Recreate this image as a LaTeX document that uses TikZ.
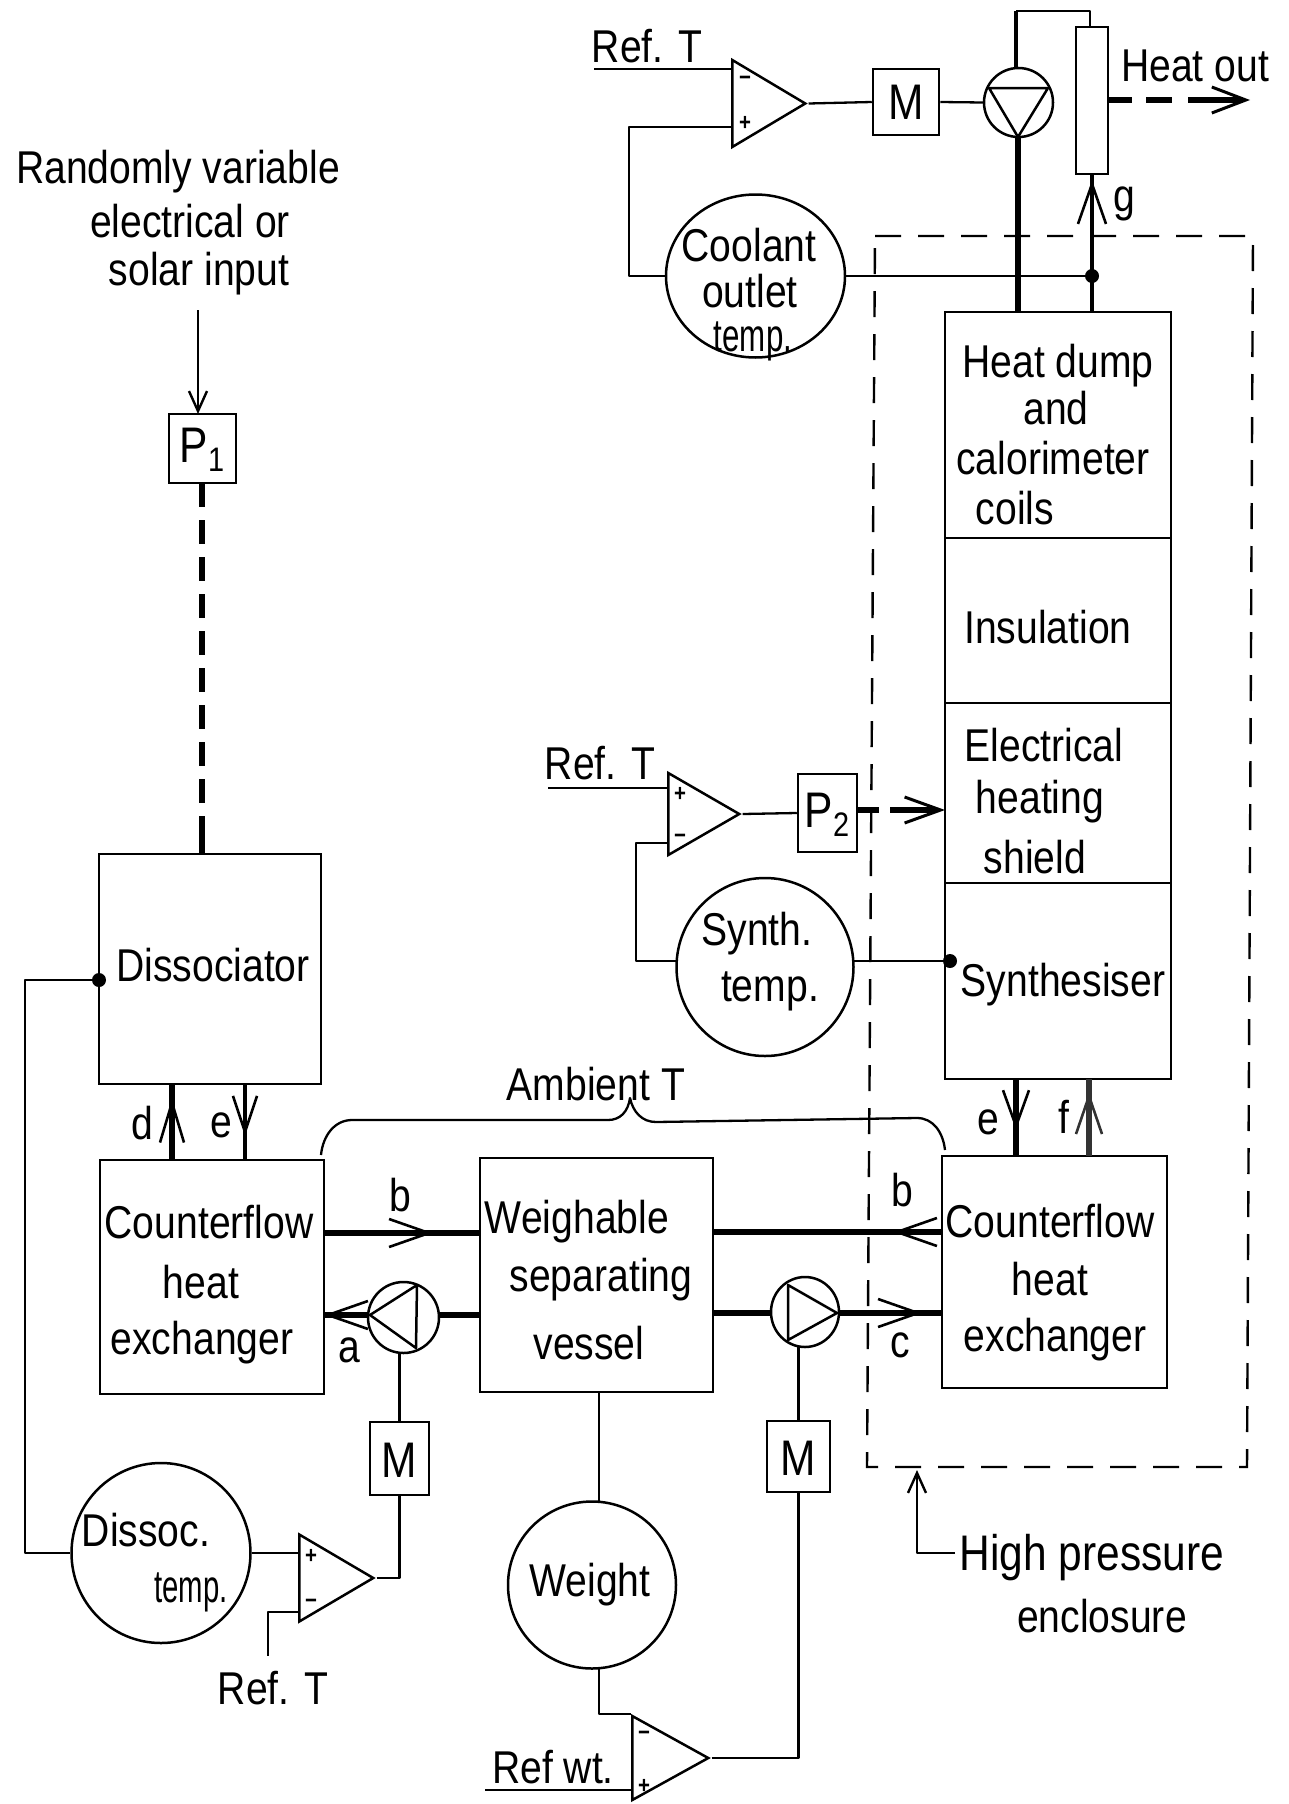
\documentclass[tikz,border=0pt]{standalone}
\usepackage{fontspec}
\usepackage{graphicx}
\setmainfont[FakeStretch=0.85]{Liberation Sans}
\usetikzlibrary{shapes.geometric,arrows.meta,calc}
\newcommand{\subnum}[1]{\raisebox{-9pt}{\fontsize{34pt}{36pt}\selectfont #1}}
\tikzset{
  x=1pt,y=-1pt,
  wire/.style={line width=2.3pt,line join=round},
  pipe/.style={line width=6pt},
  pipeb/.style={line width=4.5pt},
  barbtip/.style={-{Straight Barb[length=40pt,width=28pt,line width=2.6pt]}},
  thinbarb/.style={-{Straight Barb[length=20pt,width=18pt,line width=2.4pt]}},
  powerdash/.style={line width=5.5pt,dash pattern=on 24pt off 13pt},
  enclosure/.style={line width=2.4pt,dash pattern=on 26pt off 17pt},
  block/.style={draw,line width=2.5pt,rectangle,inner sep=0pt},
  sensor/.style={draw,line width=2.5pt,ellipse,inner sep=0pt},
  amp/.style={draw,line width=2.5pt,isosceles triangle,isosceles triangle stretches,inner sep=0pt,anchor=lower side,line join=miter},
  txt/.style={inner sep=0pt,font=\fontsize{46pt}{50pt}\selectfont},
  txtl/.style={inner sep=0pt,font=\fontsize{50pt}{54pt}\selectfont},
  ltr/.style={inner sep=0pt,font=\fontsize{46pt}{50pt}\selectfont},
  sign/.style={inner sep=0pt,font=\fontsize{24pt}{26pt}\selectfont\bfseries},
  junction/.style={circle,fill=black,inner sep=0pt,minimum size=14pt},
}
\begin{document}
\begin{tikzpicture}
\useasboundingbox[fill=white] (0,0) rectangle (1288,1804);

% ---------- blocks
\node[block,minimum width=67pt,minimum height=69pt] (P1) at (202.5,448.5) {};
\node[block,minimum width=222pt,minimum height=230pt] (diss) at (210,969) {};
\node[block,minimum width=224pt,minimum height=234pt] (cfl) at (212,1277) {};
\node[block,minimum width=233pt,minimum height=234pt] (vessel) at (596.5,1275) {};
\node[block,minimum width=225pt,minimum height=232pt] (cfr) at (1054.5,1272) {};
\node[block,minimum width=226pt,minimum height=226pt] (dump) at (1058,425) {};
\node[block,minimum width=226pt,minimum height=165pt] (insul) at (1058,620.5) {};
\node[block,minimum width=226pt,minimum height=180pt] (shield) at (1058,793) {};
\node[block,minimum width=226pt,minimum height=196pt] (synth) at (1058,981) {};
\node[block,minimum width=59pt,minimum height=78pt] (P2) at (827.5,813) {};
\node[block,minimum width=66pt,minimum height=66pt] (M1) at (906,102) {};
\node[block,minimum width=59pt,minimum height=73pt] (M2) at (399.5,1458.5) {};
\node[block,minimum width=63pt,minimum height=71pt] (M3) at (798.5,1456.5) {};
\node[block,minimum width=32pt,minimum height=147pt] (cooler) at (1092,100.5) {};

% ---------- sensors and pumps
\node[sensor,minimum width=179pt,minimum height=163pt] (coolant) at (755.5,276) {};
\node[sensor,minimum width=177pt,minimum height=178pt] (synthT) at (765,967) {};
\node[sensor,minimum width=179pt,minimum height=180pt] (dissT) at (161,1553) {};
\node[sensor,minimum width=168pt,minimum height=167pt] (weight) at (592,1585) {};
\node[sensor,minimum width=69pt,minimum height=69pt] (pumpT) at (1018.5,102.5) {};
\node[sensor,minimum width=71pt,minimum height=71pt] (pumpL) at (403.5,1317.5) {};
\node[sensor,minimum width=68pt,minimum height=70pt] (pumpR) at (805,1312) {};
\draw[wire,line width=2.5pt] (989,88) -- (1048,88) -- (1018,137) -- cycle;
\draw[wire,line width=2.5pt] (370,1315) -- (417,1285) -- (416,1348) -- cycle;
\draw[wire,line width=2.5pt] (788,1285) -- (837,1313) -- (788,1340) -- cycle;

% ---------- amplifiers
\node[amp,minimum height=73pt,minimum width=87pt] (amp1) at (731,103.5) {};
\node[amp,minimum height=71pt,minimum width=82pt] (amp2) at (667,814) {};
\node[amp,minimum height=74pt,minimum width=87pt] (amp3) at (298,1578) {};
\node[amp,minimum height=76pt,minimum width=84pt] (amp4) at (631,1758) {};
\node[sign] (a1m) at (745,81) {−};
\node[sign] (a1p) at (745,123) {+};
\node[sign] (a2p) at (680,794) {+};
\node[sign] (a2m) at (680,839) {−};
\node[sign] (a3p) at (311,1556) {+};
\node[sign] (a3m) at (311,1604) {−};
\node[sign] (a4m) at (644,1736) {−};
\node[sign] (a4p) at (644,1786) {+};

% ---------- junctions
\node[junction] (jg) at (1092,276) {};
\node[junction] (js) at (950,961) {};
\node[junction] (jd) at (99,980) {};

% ---------- named end points
\coordinate (ref1) at (594,69);
\coordinate (in1m) at (731,69);
\coordinate (in1p) at (731,127);
\coordinate (c1) at (629,127);
\coordinate (c1b) at (629,276);
\coordinate (ref2) at (548,788);
\coordinate (in2p) at (667,788);
\coordinate (in2m) at (667,843);
\coordinate (c2) at (636,843);
\coordinate (c2b) at (636,961);
\coordinate (sy1) at (676.5,961);
\coordinate (sy2) at (853.5,961);
\coordinate (dleft) at (25,980);
\coordinate (dbot) at (25,1553);
\coordinate (in3p) at (298,1553);
\coordinate (in3m) at (298,1612);
\coordinate (c3) at (268,1612);
\coordinate (c3b) at (268,1656);
\coordinate (o3) at (399.5,1578);
\coordinate (pl1) at (399.5,1353);
\coordinate (pr1) at (798.5,1346);
\coordinate (w1) at (599,1392);
\coordinate (w2) at (599,1502);
\coordinate (w3) at (599,1668);
\coordinate (w4) at (599,1714);
\coordinate (in4m) at (631,1714);
\coordinate (in4p) at (631,1790);
\coordinate (ref4) at (485,1790);
\coordinate (o4) at (798.5,1758);
\coordinate (pt1) at (1018,137);
\coordinate (pt2) at (1018,312);
\coordinate (pt3) at (1016,68);
\coordinate (pt4) at (1016,11);
\coordinate (pt5) at (1090,11);
\coordinate (pt6) at (1090,27);
\coordinate (g1) at (1092,312);
\coordinate (g2) at (1092,174);
\coordinate (gb) at (1092,228);
\coordinate (gt) at (1092,180);
\coordinate (heatend) at (1250,100);
\coordinate (heatst) at (1108,100);
\coordinate (inP1) at (198,310);
\coordinate (inP1e) at (198,414);
\coordinate (p1d) at (202,483);
\coordinate (p1m) at (202,816);
\coordinate (p1e) at (202,854);
\coordinate (d1) at (172,1160);
\coordinate (d2) at (172,1084);
\coordinate (dt) at (172,1098);
\coordinate (e1) at (245,1084);
\coordinate (e2) at (245,1160);
\coordinate (et) at (245,1136);
\coordinate (b1) at (324,1233);
\coordinate (b2) at (480,1233);
\coordinate (bt) at (433,1233);
\coordinate (a1) at (368,1315);
\coordinate (a2) at (324,1315);
\coordinate (a3) at (439,1315);
\coordinate (a4) at (480,1315);
\coordinate (rb1) at (942,1232);
\coordinate (rb2) at (713,1232);
\coordinate (rbt) at (893,1232);
\coordinate (rc0) at (713,1313);
\coordinate (rc1) at (771,1313);
\coordinate (rc2) at (839,1313);
\coordinate (rc3) at (942,1313);
\coordinate (rct) at (922,1313);
\coordinate (re1) at (1016,1079);
\coordinate (re2) at (1016,1156);
\coordinate (ret) at (1016,1130);
\coordinate (rf1) at (1089,1156);
\coordinate (rf2) at (1089,1079);
\coordinate (rft) at (1089,1092);
\coordinate (p2o) at (857,810);
\coordinate (p2e) at (945,810);
\coordinate (hp1) at (955,1553);
\coordinate (hp2) at (917,1553);
\coordinate (hp3) at (917,1470);
\coordinate (encA) at (875,236);
\coordinate (encB) at (1253,236);
\coordinate (encC) at (1247,1467);
\coordinate (encD) at (867,1467);

% ---------- signal wires
\draw[wire] (ref1) -- (in1m);
\draw[wire] (amp1.apex) -- (M1.west);
\draw[wire] (M1.east) -- (pumpT.west);
\draw[wire] (in1p) -- (c1) -- (c1b) -- (coolant.west);
\draw[wire] (coolant.east) -- (jg);
\draw[wire] (ref2) -- (in2p);
\draw[wire] (amp2.apex) -- (P2.west);
\draw[wire] (in2m) -- (c2) -- (c2b) -- (sy1);
\draw[wire] (sy2) -- (js);
\draw[wire] (jd) -- (dleft) -- (dbot) -- (dissT.west);
\draw[wire] (dissT.east) -- (in3p);
\draw[wire] (in3m) -- (c3) -- (c3b);
\draw[wire] (amp3.apex) -- (o3) -- (M2.south);
\draw[wire] (M2.north) -- (pl1);
\draw[wire] (w1) -- (w2);
\draw[wire] (w3) -- (w4) -- (in4m);
\draw[wire] (ref4) -- (in4p);
\draw[wire] (amp4.apex) -- (o4) -- (M3.south);
\draw[wire] (M3.north) -- (pr1);
\draw[wire,thinbarb] (inP1) -- (inP1e);

% ---------- coolant and gas pipes
\draw[pipe] (pt1) -- (pt2);
\draw[pipeb] (pt3) -- (pt4);
\draw[wire] (pt4) -- (pt5) -- (pt6);
\draw[pipeb] (g1) -- (g2);
\draw[wire,barbtip] (gb) -- (gt);
\draw[pipe] (d1) -- (d2);
\draw[wire,-{Straight Barb[length=40pt,width=24pt,line width=2.6pt]}] (172,1142) -- (dt);
\draw[pipeb] (e1) -- (e2);
\draw[wire,-{Straight Barb[length=36pt,width=24pt,line width=2.6pt]}] (245,1100) -- (et);
\draw[pipe] (b1) -- (b2);
\draw[wire,barbtip] (391,1233) -- (bt);
\draw[pipe] (a3) -- (a4);
\draw[pipe] (a1) -- (a2);
\draw[wire,-{Straight Barb[length=40pt,width=28pt,line width=2.6pt]}] (364,1315) -- (a2);
\draw[pipe] (rb1) -- (rb2);
\draw[wire,barbtip] (923,1232) -- (rbt);
\draw[pipe] (rc0) -- (rc1);
\draw[pipe] (rc2) -- (rc3);
\draw[wire,barbtip] (883,1313) -- (rct);
\draw[pipe] (re1) -- (re2);
\draw[wire,-{Straight Barb[length=36pt,width=26pt,line width=2.6pt]}] (1016,1090) -- (ret);
\draw[pipe,black!80] (rf1) -- (rf2);
\draw[wire,black!80,-{Straight Barb[length=38pt,width=26pt,line width=2.6pt]}] (1089,1132) -- (rft);

% ---------- power flows
\draw[powerdash] (p1d) -- (p1m);
\draw[line width=5.5pt] (p1m) -- (p1e);
\draw[line width=5.5pt] (heatst) -- (1132,100);
\draw[line width=5.5pt] (1146,100) -- (1172,100);
\draw[line width=5.5pt] (1188,100) -- (1240,100);
\draw[wire,-{Straight Barb[length=34pt,width=26pt,line width=3pt]}] (1212,100) -- (heatend);
\draw[line width=5.5pt] (p2o) -- (879,810);
\draw[line width=5.5pt] (890,810) -- (936,810);
\draw[wire,-{Straight Barb[length=36pt,width=26pt,line width=3pt]}] (905,810) -- (p2e);

% ---------- enclosure, brace, pointer
\draw[enclosure] (encA) -- (encB) -- (encC) -- (encD) -- cycle;
\draw[wire] (321,1155) .. controls (323,1135) and (335,1120) .. (352,1120) -- (608,1120)
  .. controls (620,1120) and (628,1112) .. (630,1098)
  .. controls (633,1112) and (642,1122) .. (656,1122) -- (917,1118)
  .. controls (933,1118) and (943,1132) .. (945,1150);
\draw[wire,thinbarb] (hp1) -- (hp2) -- (hp3);

% ---------- labels
\node[txt] (t01) at (647,46) {Ref. T};
\node[txt] (t02) at (1195,66) {Heat out};
\node[ltr] (lg) at (1124,204) {g};
\node[txt] (t03) at (749,245) {Coolant};
\node[txt] (t04) at (750,291) {outlet};
\node[txt] (t05) at (753,341) {\scalebox{0.8}[1]{temp.}};
\node[txt] (t06) at (178,172) {Randomly variable};
\node[txt] (t07) at (190,221) {electrical or};
\node[txt] (t08) at (199,274) {solar input};
\node[txtl] (t09) at (202,450) {P\subnum{1}};
\node[txt] (t10) at (1058,366) {Heat dump};
\node[txt] (t11) at (1056,408) {and};
\node[txt] (t12) at (1053,458) {calorimeter};
\node[txt] (t13) at (1015,508) {coils};
\node[txt] (t14) at (1048,627) {Insulation};
\node[txt] (t15) at (1044,745) {Electrical};
\node[txt] (t16) at (1040,802) {heating};
\node[txt] (t17) at (1035,857) {shield};
\node[txt] (t18) at (1063,985) {Synthesiser};
\node[txt] (t19) at (600,763) {Ref. T};
\node[txtl] (t20) at (827,815) {P\subnum{2}};
\node[txt] (t21) at (757,934) {Synth.};
\node[txt] (t22) at (770,991) {temp.};
\node[txt] (t23) at (213,965) {Dissociator};
\node[txt] (t24) at (596,1084) {Ambient T};
\node[ltr] (ld) at (142,1123) {d};
\node[ltr] (le) at (221,1125) {e};
\node[ltr] (lb) at (400,1195) {b};
\node[ltr] (la) at (349,1350) {a};
\node[ltr] (lb2) at (902,1190) {b};
\node[ltr] (lc) at (900,1345) {c};
\node[ltr] (le2) at (988,1122) {e};
\node[ltr] (lf) at (1064,1117) {f};
\node[txt] (t25) at (209,1222) {Counterflow};
\node[txt] (t26) at (201,1282) {heat};
\node[txt] (t27) at (202,1343) {exchanger};
\node[txt] (t28) at (577,1222) {Weighable};
\node[txt] (t29) at (601,1280) {separating};
\node[txt] (t30) at (589,1343) {vessel};
\node[txt] (t31) at (1050,1221) {Counterflow};
\node[txt] (t32) at (1050,1279) {heat};
\node[txt] (t33) at (1055,1340) {exchanger};
\node[txtl] (t34) at (906,102) {M};
\node[txtl] (t35) at (399.5,1460) {M};
\node[txtl] (t36) at (798.5,1458) {M};
\node[txt] (t37) at (146,1530) {Dissoc.};
\node[txt] (t38) at (191,1592) {\scalebox{0.75}[1]{temp.}};
\node[txt] (t39) at (590,1585) {Weight};
\node[txt] (t40) at (273,1688) {Ref. T};
\node[txt] (t41) at (553,1767) {Ref wt.};
\node[txtl] (t42) at (1092,1558) {High pressure};
\node[txt] (t43) at (1102,1616) {enclosure};
\end{tikzpicture}
\end{document}
